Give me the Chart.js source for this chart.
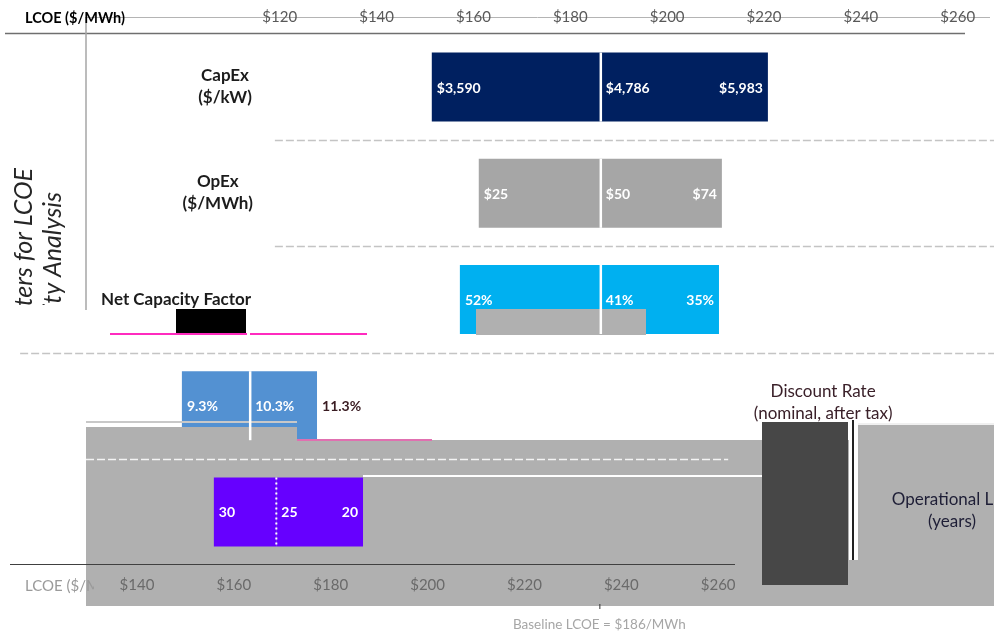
<!DOCTYPE html>
<html>
<head>
<meta charset="utf-8">
<script src="https://cdn.jsdelivr.net/npm/chart.js@4"></script>
<style>
  html, body { margin: 0; padding: 0; background: #ffffff; }
  #chart { display: block; }
</style>
</head>
<body>
<canvas id="chart" width="994" height="635"></canvas>
<script>
// LCOE sensitivity (tornado) data
const parameters = ['CapEx', 'OpEx', 'Net Capacity Factor', 'Discount Rate', 'Operational Life'];
const parameterUnits = ['($/kW)', '($/MWh)', '', '(nominal, after tax)', '(years)'];
const lowLcoe = [151.4, 161.1, 157.2, 99.8, 106.4];
const baseLcoe = [186.3, 186.3, 186.3, 113.9, 119.3];
const highLcoe = [220.8, 211.3, 210.7, 127.7, 137.2];
const lowInputs = ['$3,590', '$25', '52%', '9.3%', '30'];
const baseInputs = ['$4,786', '$50', '41%', '10.3%', '25'];
const highInputs = ['$5,983', '$74', '35%', '11.3%', '20'];
const topTicks = [120, 140, 160, 180, 200, 220, 240, 260];
const bottomTicks = [140, 160, 180, 200, 220, 240, 260];
const baselineLcoe = 186;

// Styling
const rowColors = ['#002060', '#a6a6a6', '#00b0f0', '#5391d2', '#6600ff'];
const FONT = 'Lato, "Open Sans", sans-serif';
// centre of each parameter name, in LCOE units of the top axis
const nameCentres = [108.7, 107.2, 98.6, 232.2, 258.8];

// Smudged areas of the source picture: [x from, x to ($), row from, row to, colour]
const smudges = [
  [80, 123.57, 3.2006, 4.886, '#b0b0b0'],
  [123.57, 267.5, 3.323, 4.886, '#b0b0b0'],
  [239.4, 267.5, 3.182, 3.33, '#b0b0b0'],
  [80, 123.57, 3.144, 3.163, '#c8c8c8'],
  [239.4, 267.5, 3.163, 3.182, '#f0f0f0'],
  [137.2, 219.58, 3.657, 3.671, '#ffffff'],
  [219.58, 237.34, 3.153, 4.688, '#474747'],
  [237.55, 239.4, 3.135, 4.453, '#ffffff'],
  [238.17, 238.59, 3.135, 4.453, '#222222'],
  [160.53, 195.63, 2.0895, 2.334, '#b0b0b0'],
  [98.58, 113.04, 2.0895, 2.3154, '#000000'],
  [84.96, 113.24, 2.3154, 2.334, '#ff2bbf'],
  [113.86, 138.02, 2.3154, 2.334, '#ff2bbf'],
  [123.57, 151.44, 3.3137, 3.332, '#e070b0'],
  [64.31, 214.0, 4.486, 4.5, '#404040']
];

// Dashed row separators: [row boundary, x from ($), x to ($), colour]
const separators = [
  [0.5, 119.0, 267.5, '#c4c4c4'],
  [1.5, 119.0, 267.5, '#c4c4c4'],
  [2.5, 66.4, 267.5, '#c4c4c4'],
  [3.5, 80, 212.6, '#f4f4f4']
];

function rect(ctx, x, y, a, b, r0, r1, color) {
  const px0 = Math.round(x.getPixelForValue(a)), px1 = Math.round(x.getPixelForValue(b));
  const py0 = Math.round(y.getPixelForValue(r0)), py1 = Math.round(y.getPixelForValue(r1));
  ctx.fillStyle = color;
  ctx.fillRect(px0, py0, Math.max(px1 - px0, 1), Math.max(py1 - py0, 1));
}

const tornadoPlugin = {
  id: 'tornado',
  beforeDraw(chart) {
    const ctx = chart.ctx;
    const area = chart.chartArea;
    ctx.save();
    // thin line running through the top tick labels
    ctx.strokeStyle = '#b4b4b4';
    ctx.lineWidth = 1;
    ctx.beginPath();
    ctx.moveTo(area.left - 1, 17.5);
    ctx.lineTo(area.right, 17.5);
    ctx.stroke();
    // top axis rule
    ctx.strokeStyle = '#6f6f6f';
    ctx.lineWidth = 1.5;
    ctx.beginPath();
    ctx.moveTo(5, 33.5);
    ctx.lineTo(965, 33.5);
    ctx.stroke();
    // left axis line
    ctx.strokeStyle = '#a6a6a6';
    ctx.beginPath();
    ctx.moveTo(area.left, 17);
    ctx.lineTo(area.left, 310);
    ctx.stroke();
    ctx.restore();
  },
  afterDatasetsDraw(chart) {
    const ctx = chart.ctx;
    const x = chart.scales.x;
    const y = chart.scales.y;
    ctx.save();

    smudges.forEach(s => rect(ctx, x, y, s[0], s[1], s[2], s[3], s[4]));

    // the last row sits on top of the smudge
    chart.getDatasetMeta(0).data[4].draw(ctx);
    chart.getDatasetMeta(1).data[4].draw(ctx);

    // row separators
    ctx.lineWidth = 1.5;
    ctx.setLineDash([8, 3]);
    separators.forEach(s => {
      const py = Math.round(y.getPixelForValue(s[0])) + 0.5;
      ctx.strokeStyle = s[3];
      ctx.beginPath();
      ctx.moveTo(x.getPixelForValue(s[1]), py);
      ctx.lineTo(x.getPixelForValue(s[2]), py);
      ctx.stroke();
    });
    ctx.setLineDash([]);

    // white divider at the baseline of each bar
    const meta = chart.getDatasetMeta(1);
    parameters.forEach((p, i) => {
      const bar = meta.data[i];
      const px = x.getPixelForValue(baseLcoe[i]);
      ctx.strokeStyle = '#ffffff';
      ctx.lineWidth = i === 4 ? 2 : 2.5;
      ctx.setLineDash(i === 4 ? [2, 3] : []);
      ctx.beginPath();
      ctx.moveTo(px, bar.y - bar.height / 2);
      ctx.lineTo(px, bar.y + bar.height / 2);
      ctx.stroke();
    });
    ctx.setLineDash([]);

    // input values inside the bars
    ctx.font = 'bold 14px ' + FONT;
    ctx.textBaseline = 'middle';
    parameters.forEach((p, i) => {
      const cy = meta.data[i].y + 1;
      ctx.fillStyle = '#ffffff';
      ctx.textAlign = 'left';
      ctx.fillText(lowInputs[i], x.getPixelForValue(lowLcoe[i]) + 5, cy);
      ctx.fillText(baseInputs[i], x.getPixelForValue(baseLcoe[i]) + 5, cy);
      if (i === 3) {
        ctx.fillStyle = '#3a1c22';
        ctx.fillText(highInputs[i], x.getPixelForValue(highLcoe[i]) + 5, cy);
      } else {
        ctx.textAlign = 'right';
        ctx.fillText(highInputs[i], x.getPixelForValue(highLcoe[i]) - 5, cy);
      }
    });

    // parameter names
    ctx.textAlign = 'center';
    parameters.forEach((p, i) => {
      const cx = x.getPixelForValue(nameCentres[i]);
      const cy = y.getPixelForValue(i);
      ctx.font = (i < 3 ? 'bold 17px ' : '17px ') + FONT;
      ctx.fillStyle = i === 3 ? '#3a2029' : (i === 4 ? '#1e1e36' : '#1c1c1c');
      const shift = i === 3 ? -2 : 0;
      if (parameterUnits[i]) {
        ctx.fillText(p, cx, cy - 12 + shift);
        ctx.fillText(parameterUnits[i], cx, cy + 10 + shift);
      } else {
        ctx.fillText(p, cx, cy);
      }
    });
    ctx.restore();
  },
  afterDraw(chart) {
    const ctx = chart.ctx;
    const x = chart.scales.x;
    ctx.save();
    // axis titles
    ctx.font = 'bold 14.5px ' + FONT;
    ctx.fillStyle = '#000000';
    ctx.textAlign = 'left';
    ctx.textBaseline = 'middle';
    ctx.fillText('LCOE ($/MWh)', 25, 18);

    ctx.save();
    ctx.beginPath();
    ctx.rect(0, 560, 94, 60);
    ctx.clip();
    ctx.font = '15px ' + FONT;
    ctx.fillStyle = '#9a9a9a';
    ctx.fillText('LCOE ($/MWh)', 25, 586);
    ctx.restore();

    // rotated parameter title, cut off like the source
    const titleLines = [['Parameters for LCOE', 24, 168], ['Sensitivity Analysis', 53, 192]];
    titleLines.forEach(t => {
      ctx.save();
      ctx.beginPath();
      ctx.rect(0, 0, 86, 305);
      ctx.clip();
      ctx.font = 'italic 25px ' + FONT;
      ctx.fillStyle = '#262626';
      ctx.textAlign = 'right';
      ctx.textBaseline = 'middle';
      ctx.translate(t[1], t[2]);
      ctx.rotate(-Math.PI / 2);
      ctx.fillText(t[0], 0, 0);
      ctx.restore();
    });

    // baseline note
    const bx = x.getPixelForValue(baselineLcoe);
    ctx.fillStyle = '#333333';
    ctx.fillRect(bx, 604, 1, 5);
    ctx.font = '13.5px ' + FONT;
    ctx.fillStyle = '#a6a6a6';
    ctx.textAlign = 'center';
    ctx.fillText('Baseline LCOE = $' + baselineLcoe + '/MWh', bx, 625);
    ctx.restore();
  }
};

const ctx = document.getElementById('chart').getContext('2d');
new Chart(ctx, {
  type: 'bar',
  data: {
    labels: parameters,
    datasets: [
      {
        label: 'Low input',
        data: parameters.map((p, i) => [lowLcoe[i], baseLcoe[i]]),
        backgroundColor: rowColors,
        borderWidth: 0,
        barPercentage: 0.65,
        categoryPercentage: 1
      },
      {
        label: 'High input',
        data: parameters.map((p, i) => [baseLcoe[i], highLcoe[i]]),
        backgroundColor: rowColors,
        borderWidth: 0,
        barPercentage: 0.65,
        categoryPercentage: 1
      }
    ]
  },
  options: {
    indexAxis: 'y',
    responsive: false,
    animation: false,
    devicePixelRatio: 1,
    layout: { padding: { left: 0, right: 4, top: 0, bottom: 0 } },
    plugins: {
      legend: { display: false },
      tooltip: { enabled: false }
    },
    scales: {
      x: {
        position: 'top',
        min: 80,
        max: 266.66,
        grid: { display: false, drawTicks: false },
        border: { display: false },
        ticks: {
          padding: 8,
          autoSkip: false,
          maxRotation: 0,
          color: '#595959',
          font: { family: FONT, size: 15 },
          callback: v => '$' + v
        },
        afterBuildTicks: s => { s.ticks = topTicks.map(v => ({ value: v })); },
        afterFit: s => { s.height = 34; }
      },
      x2: {
        position: 'bottom',
        min: 129.47,
        max: 316.13,
        grid: { display: false, drawTicks: false },
        border: { display: false },
        ticks: {
          z: 1,
          padding: 11,
          autoSkip: false,
          maxRotation: 0,
          color: '#6a6a6a',
          font: { family: FONT, size: 15 },
          callback: v => '$' + v
        },
        afterBuildTicks: s => { s.ticks = bottomTicks.map(v => ({ value: v })); },
        afterFit: s => { s.height = 70; }
      },
      y: {
        stacked: true,
        grid: { display: false, drawTicks: false },
        border: { display: false },
        ticks: { display: false },
        afterFit: s => { s.width = 86; }
      }
    }
  },
  plugins: [tornadoPlugin]
});
</script>
</body>
</html>
